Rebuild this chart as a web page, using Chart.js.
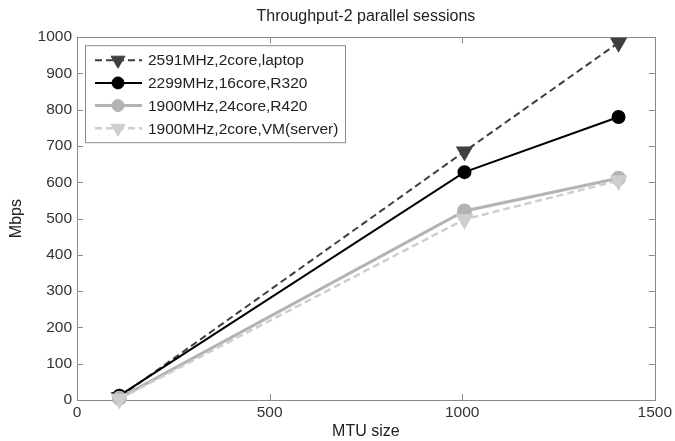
<!DOCTYPE html>
<html>
<head>
<meta charset="utf-8">
<script src="https://cdn.jsdelivr.net/npm/chart.js@4.4.1/dist/chart.umd.min.js"></script>
<style>
  html, body { margin: 0; padding: 0; background: #fff; }
</style>
</head>
<body>
<canvas id="chart" width="675" height="441"></canvas>
<script>
// values
const mtuSizes = [110, 1006, 1406];
const laptop = [8, 685, 985];
const r320 = [12, 628, 780];
const r420 = [5, 521, 611];
const vmServer = [3, 498, 605];
const seriesNames = ['2591MHz,2core,laptop', '2299MHz,16core,R320', '1900MHz,24core,R420', '1900MHz,2core,VM(server)'];
const xTicks = [0, 500, 1000, 1500];
const yTicks = [0, 100, 200, 300, 400, 500, 600, 700, 800, 900, 1000];

const FONT = '"Liberation Sans", Arial, Helvetica, sans-serif';

const toPoints = vals => vals.map((v, i) => ({ x: mtuSizes[i], y: v }));

// matlab-like box with inward ticks
const framePlugin = {
    id: 'frame',
    afterLayout(chart) {
        // title centred over the plot box, not the whole canvas
        if (chart.titleBlock) {
            chart.titleBlock.left = chart.chartArea.left;
            chart.titleBlock.right = chart.chartArea.right;
        }
    },
    beforeDatasetsDraw(chart) {
        const { ctx, chartArea: a, scales } = chart;
        ctx.save();
        ctx.strokeStyle = '#8a8a8a';
        ctx.lineWidth = 1;
        ctx.strokeRect(Math.round(a.left) + 0.5, Math.round(a.top) + 0.5, Math.round(a.right - a.left), Math.round(a.bottom - a.top));
        ctx.beginPath();
        xTicks.forEach(t => {
            const x = Math.round(scales.x.getPixelForValue(t)) + 0.5;
            ctx.moveTo(x, a.bottom); ctx.lineTo(x, a.bottom - 6);
            ctx.moveTo(x, a.top); ctx.lineTo(x, a.top + 6);
        });
        yTicks.forEach(t => {
            const y = Math.round(scales.y.getPixelForValue(t)) + 0.5;
            ctx.moveTo(a.left, y); ctx.lineTo(a.left + 6, y);
            ctx.moveTo(a.right, y); ctx.lineTo(a.right - 6, y);
        });
        ctx.stroke();
        ctx.restore();
    }
};

// legend box inside the plot, line samples with markers
const boxLegend = {
    id: 'boxLegend',
    afterDatasetsDraw(chart) {
        const { ctx, chartArea: a } = chart;
        const left = a.left + 8, top = a.top + 8, w = 260, h = 97;
        ctx.save();
        ctx.fillStyle = '#fff';
        ctx.fillRect(left, top, w, h);
        ctx.strokeStyle = '#8a8a8a';
        ctx.lineWidth = 1;
        ctx.strokeRect(left + 0.5, top + 0.5, w, h);
        // datasets are stored last-to-first so the first series is drawn underneath
        chart.data.datasets.slice().reverse().forEach((ds, i) => {
            const y = top + 15 + i * 22.7;
            ctx.beginPath();
            ctx.strokeStyle = ds.borderColor;
            ctx.lineWidth = ds.borderWidth;
            ctx.setLineDash(ds.borderDash || []);
            ctx.moveTo(left + 10, y);
            ctx.lineTo(left + 57, y);
            ctx.stroke();
            ctx.setLineDash([]);
            ctx.fillStyle = ds.pointBackgroundColor;
            ctx.strokeStyle = ds.pointBorderColor;
            ctx.lineWidth = 1;
            Chart.helpers.drawPoint(ctx, {
                pointStyle: ds.pointStyle,
                rotation: ds.pointRotation || 0,
                radius: ds.pointRadius,
                borderWidth: 1
            }, left + 33, y);
            ctx.fillStyle = '#222';
            ctx.font = '15.5px ' + FONT;
            ctx.textBaseline = 'middle';
            ctx.fillText(ds.label, left + 63, y + 1);
        });
        ctx.restore();
    }
};

new Chart(document.getElementById('chart'), {
    type: 'line',
    data: {
        datasets: [
            {
                label: seriesNames[0], data: toPoints(laptop),
                borderColor: '#3f3f3f', borderWidth: 2, borderDash: [7, 4],
                pointStyle: 'triangle', pointRotation: 180, pointRadius: 8,
                pointBackgroundColor: '#3f3f3f', pointBorderColor: '#3f3f3f'
            },
            {
                label: seriesNames[1], data: toPoints(r320),
                borderColor: '#000', borderWidth: 2,
                pointStyle: 'circle', pointRadius: 6,
                pointBackgroundColor: '#000', pointBorderColor: '#000'
            },
            {
                label: seriesNames[2], data: toPoints(r420),
                borderColor: '#b3b3b3', borderWidth: 3,
                pointStyle: 'circle', pointRadius: 6,
                pointBackgroundColor: '#b3b3b3', pointBorderColor: '#b3b3b3'
            },
            {
                label: seriesNames[3], data: toPoints(vmServer),
                borderColor: '#cecece', borderWidth: 2.5, borderDash: [7, 4],
                pointStyle: 'triangle', pointRotation: 180, pointRadius: 8,
                pointBackgroundColor: '#cecece', pointBorderColor: '#cecece'
            }
        ].reverse()
    },
    options: {
        responsive: false,
        animation: false,
        devicePixelRatio: 1,
        clip: false,
        layout: { padding: { left: 0, right: 20, top: 0, bottom: 0 } },
        plugins: {
            legend: { display: false },
            tooltip: { enabled: false },
            title: {
                display: true,
                text: 'Throughput-2 parallel sessions',
                color: '#222',
                font: { family: FONT, size: 16, weight: 'normal' },
                padding: { top: 7, bottom: 11 }
            }
        },
        scales: {
            x: {
                type: 'linear',
                min: 0, max: 1500,
                afterBuildTicks: s => { s.ticks = xTicks.map(v => ({ value: v })); },
                afterFit: s => { s.height = 41; },
                grid: { display: false, drawTicks: false },
                border: { display: false },
                ticks: { color: '#333', padding: 3, font: { family: FONT, size: 15.5 }, maxRotation: 0, callback: v => String(v) },
                title: { display: true, text: 'MTU size', color: '#222', padding: 0, font: { family: FONT, size: 16 } }
            },
            y: {
                type: 'linear',
                min: 0, max: 1000,
                afterBuildTicks: s => { s.ticks = yTicks.map(v => ({ value: v })); },
                afterFit: s => { s.width = 77; },
                grid: { display: false, drawTicks: false },
                border: { display: false },
                ticks: { color: '#333', padding: 5, font: { family: FONT, size: 15.5 }, callback: v => String(v) },
                title: { display: true, text: 'Mbps', color: '#222', padding: 7, font: { family: FONT, size: 16 } }
            }
        }
    },
    plugins: [framePlugin, boxLegend]
});
</script>
</body>
</html>
